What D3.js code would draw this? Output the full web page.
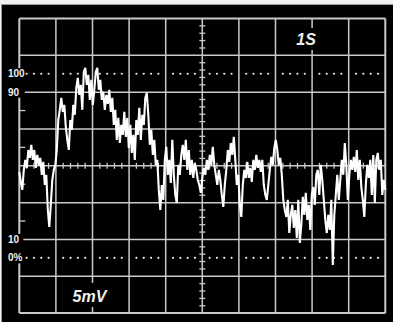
<!DOCTYPE html>
<html><head><meta charset="utf-8">
<script src="https://cdn.jsdelivr.net/npm/d3@7/dist/d3.min.js"></script>
<style>html,body{margin:0;padding:0;background:#f2f2f2;}svg{display:block;}</style>
</head><body>
<svg id="c" width="393" height="322"></svg>
<script>
// signal in percent of the 0%..100% reference span, sampled evenly across 10 time divisions
const signal = [46.7,41.3,36.9,47.8,53.2,48.9,58.6,54.3,61.4,53.2,58.6,48.9,55.9,50.5,54.3,45.1,52.1,39.6,45.1,26.0,
16.8,28.8,42.3,47.8,50.5,58.6,74.9,80.4,86.9,79.3,83.1,71.1,64.1,58.6,74.9,69.5,83.1,77.7,92.3,97.8,
88.5,94.0,80.4,101.0,103.2,94.0,99.4,85.8,96.7,83.1,91.3,101.0,103.2,91.3,96.7,85.8,90.2,80.4,88.5,83.6,
91.3,79.3,86.9,72.2,80.4,64.1,76.0,62.4,72.2,66.8,79.3,65.7,76.0,59.7,72.2,57.0,66.8,53.2,74.9,66.8,
81.5,64.1,77.7,72.2,86.9,89.6,77.7,61.4,69.5,55.9,64.1,50.5,53.2,36.9,26.0,39.6,31.5,53.2,60.3,45.1,
53.2,40.7,64.1,45.1,34.2,29.8,50.5,45.1,55.9,61.4,53.2,64.1,47.8,58.6,45.1,53.2,43.4,51.6,47.8,42.3,
39.6,35.3,43.4,48.9,45.1,53.2,47.8,55.9,50.5,60.3,50.5,45.1,39.6,47.8,42.3,34.2,27.7,39.6,47.8,58.6,
52.1,62.4,55.9,65.7,53.2,39.6,45.1,28.8,22.2,39.6,47.8,43.4,52.1,43.4,48.9,41.3,53.2,47.8,55.9,48.9,
53.2,46.7,53.2,39.6,34.2,31.5,39.6,47.8,54.8,50.5,59.7,64.1,58.6,50.5,54.3,45.1,31.5,26.0,22.2,31.5,
13.5,23.3,28.8,16.3,26.0,10.8,31.5,8.1,17.9,33.1,23.3,35.3,20.6,28.8,15.2,34.2,38.5,28.8,45.1,47.8,
34.2,50.5,42.3,31.5,20.6,13.5,23.3,15.2,31.5,-3.9,23.3,34.2,45.1,31.5,42.3,53.2,45.1,62.4,50.5,31.5,
45.1,53.2,47.8,54.8,46.7,58.6,42.3,53.2,38.5,31.5,22.2,39.6,50.5,43.4,53.2,34.2,55.9,29.8,53.2,57.0,
47.8,53.2,34.2,42.3,36.9];
const timeDivs = [0,1,2,3,4,5,6,7,8,9,10];
const levelLines = [-30,-10,10,30,50,70,90,110,130];
const dottedLevels = [0,100];
const edgeTicks = [20,40,60,80];
const levelLabels = [{v:100,t:"100"},{v:90,t:"90"},{v:10,t:"10"},{v:0,t:"0%"}];
const timeLabel = "1S", voltLabel = "5mV";

const svg = d3.select("#c");
const x = d3.scaleLinear().domain([0,10]).range([19.3,385.3]);
const y = d3.scaleLinear().domain([-30,130]).range([313.1,18.5]);
const gridCol = "#c9c9c9";

svg.append("rect").attr("x",1.5).attr("y",4.5).attr("width",393).attr("height",320)
  .attr("fill","#000").attr("stroke","#9a9a9a").attr("stroke-width",1);

const g = svg.append("g");
// grid
g.selectAll(".vl").data(timeDivs).join("line")
  .attr("x1",d=>x(d)).attr("x2",d=>x(d)).attr("y1",y(130)).attr("y2",y(-30))
  .attr("stroke",gridCol).attr("stroke-width",d=>(d===0||d===10)?2:1.5);
g.selectAll(".hl").data(levelLines).join("line")
  .attr("x1",x(0)).attr("x2",x(10)).attr("y1",d=>y(d)).attr("y2",d=>y(d))
  .attr("stroke",gridCol).attr("stroke-width",d=>(d===-30||d===130)?2:1.5);

// minor ticks on centre lines
const minorX = d3.range(0,50).map(i=>i/5).filter(v=>v%1!==0).concat([10]);
const minorY = d3.range(-30,131,4).filter(v=>(v+30)%20!==0);
g.selectAll(".tx").data(minorX).join("line")
  .attr("x1",d=>x(d)).attr("x2",d=>x(d)).attr("y1",y(50)-3).attr("y2",y(50)+3)
  .attr("stroke",gridCol).attr("stroke-width",1.3);
g.selectAll(".ty").data(minorY).join("line")
  .attr("y1",d=>y(d)).attr("y2",d=>y(d)).attr("x1",x(5)-3).attr("x2",x(5)+3)
  .attr("stroke",gridCol).attr("stroke-width",1.3);
// edge ticks
g.selectAll(".et").data(edgeTicks).join("line")
  .attr("y1",d=>y(d)).attr("y2",d=>y(d)).attr("x1",x(0)).attr("x2",x(0)+6)
  .attr("stroke",gridCol).attr("stroke-width",1.3);

// dotted reference levels
dottedLevels.forEach(lv=>{
  g.selectAll(null).data(minorX.filter(v=>v<10)).join("circle")
    .attr("cx",d=>x(d)).attr("cy",y(lv)).attr("r",1.1).attr("fill","#eee");
});

// label backgrounds
g.append("rect").attr("x",4).attr("y",y(103)).attr("width",x(0)+5.5-4).attr("height",y(87)-y(103)).attr("fill","#000");
g.append("rect").attr("x",4).attr("y",y(13)).attr("width",x(0)+4-4).attr("height",y(-3)-y(13)).attr("fill","#000");
g.selectAll(".lab").data(levelLabels).join("text")
  .attr("x",8).attr("y",d=>y(d.v)+3.5)
  .attr("font-family","Liberation Sans, Arial, sans-serif").attr("font-weight","bold")
  .attr("font-size",10).attr("fill","#eee").text(d=>d.t);

// trace
const line = d3.line().x((d,i)=>x(i*10/(signal.length-1))).y(d=>y(d));
g.append("path").datum(signal).attr("d",line).attr("fill","none")
  .attr("stroke","#fff").attr("stroke-width",2.1).attr("stroke-linejoin","miter");

// scale labels
g.append("rect").attr("x",x(8)-12).attr("y",28).attr("width",22).attr("height",22).attr("fill","#000");
g.append("text").attr("x",x(8)-6).attr("y",45).attr("text-anchor","middle")
  .attr("font-family","Liberation Sans, Arial, sans-serif").attr("font-weight","bold").attr("font-style","italic")
  .attr("font-size",16).attr("fill","#eee").text(timeLabel);
g.append("rect").attr("x",x(2)-10).attr("y",283).attr("width",20).attr("height",24).attr("fill","#000");
g.append("text").attr("x",x(2)-3).attr("y",302).attr("text-anchor","middle")
  .attr("font-family","Liberation Sans, Arial, sans-serif").attr("font-weight","bold").attr("font-style","italic")
  .attr("font-size",16).attr("fill","#eee").text(voltLabel);
</script>
</body></html>
